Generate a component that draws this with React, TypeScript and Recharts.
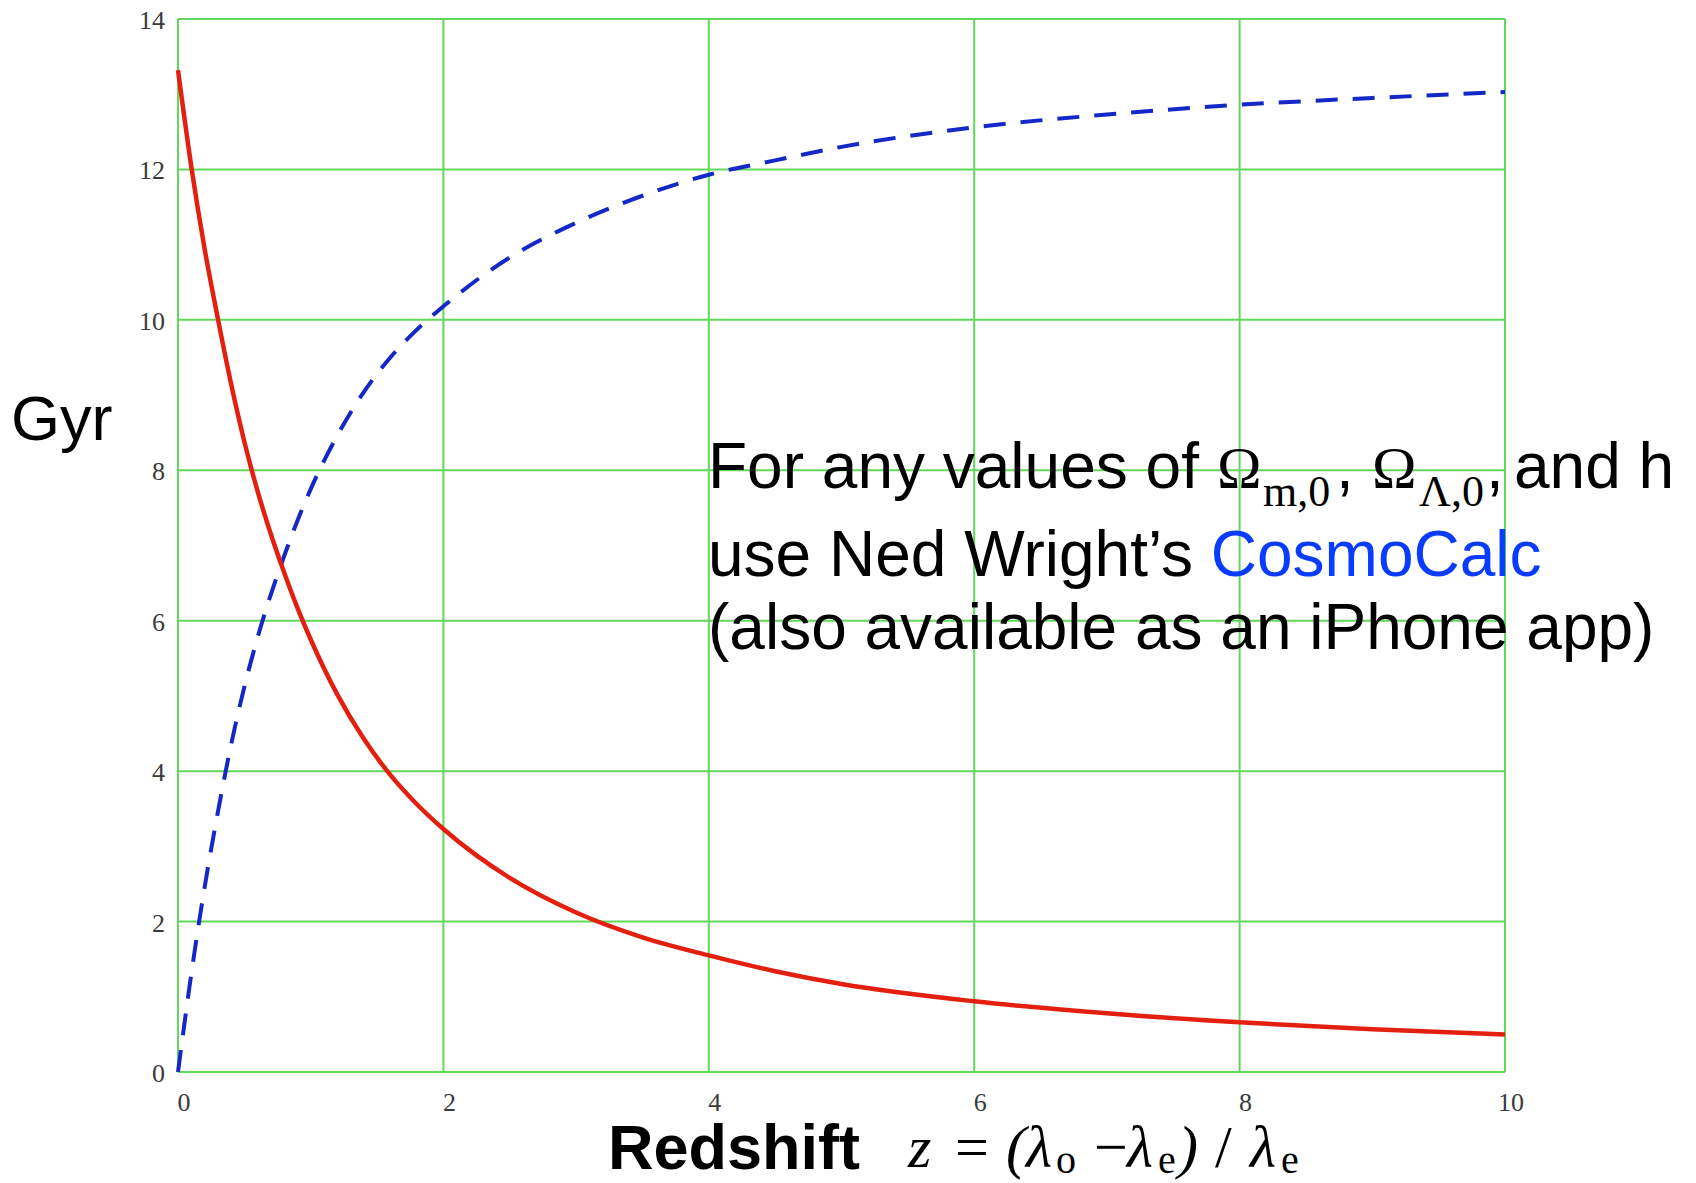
import { CartesianGrid, Line, LineChart, XAxis, YAxis } from "recharts";

// age of the universe at redshift z (red, solid)
const zAge = [0, 0.1, 0.2, 0.3, 0.4, 0.5, 0.6, 0.7, 0.8, 0.9, 1.0, 1.2, 1.4, 1.6, 1.8, 2, 2.5, 3, 3.5, 4, 4.5, 5, 6, 7, 8, 9, 10];
const age = [13.32, 12.04, 10.95, 10.02, 9.15, 8.38, 7.72, 7.15, 6.64, 6.17, 5.75, 5.02, 4.43, 3.95, 3.56, 3.23, 2.58, 2.12, 1.79, 1.55, 1.34, 1.17, 0.94, 0.78, 0.66, 0.57, 0.5];

// lookback time to redshift z (blue, dashed)
const zLook = [0, 0.1, 0.2, 0.3, 0.4, 0.5, 0.6, 0.7, 0.8, 0.9, 1.0, 1.2, 1.4, 1.6, 1.8, 2, 2.5, 3, 3.5, 4, 4.5, 5, 6, 7, 8, 9, 10];
const lookback = [0, 1.3, 2.45, 3.45, 4.35, 5.12, 5.78, 6.35, 6.86, 7.33, 7.75, 8.46, 9.04, 9.5, 9.87, 10.18, 10.83, 11.29, 11.65, 11.93, 12.12, 12.3, 12.56, 12.73, 12.86, 12.95, 13.03];

const xTicks = [0, 2, 4, 6, 8, 10];
const yTicks = [0, 2, 4, 6, 8, 10, 12, 14];

const ageData = zAge.map((z, i) => ({ z, gyr: age[i] }));
const lookData = zLook.map((z, i) => ({ z, gyr: lookback[i] }));

const GRID = "#62d85a";
const SANS = "'Liberation Sans', Arial, sans-serif";
const SERIF = "'Liberation Serif', 'Times New Roman', serif";

const YTick = ({ y, payload }: any) => (
  <text x={165} y={y + 4} textAnchor="end" dominantBaseline="middle" fontFamily={SERIF} fontSize={26} fill="#3a3a3a">
    {payload.value}
  </text>
);

const XTick = ({ x, payload }: any) => (
  <text x={x + 6} y={1105} textAnchor="middle" dominantBaseline="middle" fontFamily={SERIF} fontSize={26} fill="#3a3a3a">
    {payload.value}
  </text>
);

function Notes() {
  return (
    <svg width={1696} height={1183} style={{ position: "absolute", left: 0, top: 0, pointerEvents: "none" }}>
      <text x={11} y={440} fontFamily={SANS} fontSize={63} fill="#000">
        Gyr
      </text>

      <text x={708} y={488} fontFamily={SANS} fontSize={64} fill="#000">
        <tspan>For any values of</tspan>
        <tspan x={1217} fontFamily={SERIF} fontSize={60}>Ω</tspan>
        <tspan x={1263} fontFamily={SERIF} fontSize={44} dy={18}>m,0</tspan>
        <tspan x={1336} dy={-18}>,</tspan>
        <tspan x={1372} fontFamily={SERIF} fontSize={60}>Ω</tspan>
        <tspan x={1419} fontFamily={SERIF} fontSize={44} dy={18}>Λ,0</tspan>
        <tspan x={1486} dy={-18}>,</tspan>
        <tspan x={1514}>and h</tspan>
      </text>
      <text x={708} y={576} fontFamily={SANS} fontSize={64} fill="#000">
        <tspan>use Ned Wright’s </tspan>
        <tspan fill="#0a3cff">CosmoCalc</tspan>
      </text>
      <text x={708} y={649} fontFamily={SANS} fontSize={64} fill="#000">
        (also available as an iPhone app)
      </text>

      <text x={608} y={1169} fontFamily={SANS} fontSize={63} fontWeight="bold" fill="#000">
        Redshift
      </text>
      <text y={1167} fontFamily={SERIF} fontSize={60} fill="#000">
        <tspan x={908} fontStyle="italic">z</tspan>
        <tspan x={955}>=</tspan>
        <tspan x={1006} fontStyle="italic">(</tspan>
        <tspan x={1026} fontStyle="italic">λ</tspan>
        <tspan x={1056} fontSize={40} dy={6}>o</tspan>
        <tspan x={1094} dy={-6}>−</tspan>
        <tspan x={1127} fontStyle="italic">λ</tspan>
        <tspan x={1158} fontSize={40} dy={6}>e</tspan>
        <tspan x={1178} fontStyle="italic" dy={-6}>)</tspan>
        <tspan x={1215}>/</tspan>
        <tspan x={1250} fontStyle="italic">λ</tspan>
        <tspan x={1281} fontSize={40} dy={6}>e</tspan>
      </text>
    </svg>
  );
}

export default function App() {
  return (
    <div style={{ position: "absolute", left: 0, top: 0, width: 1696, height: 1183, background: "#fff" }}>
      <LineChart width={1696} height={1183} margin={{ top: 19, right: 191, bottom: 61, left: 118 }}>
        <CartesianGrid stroke={GRID} strokeWidth={2} fill="none" />
        <XAxis
          type="number"
          dataKey="z"
          domain={[0, 10]}
          ticks={xTicks}
          allowDuplicatedCategory={false}
          axisLine={false}
          tickLine={false}
          height={50}
          tick={<XTick />}
        />
        <YAxis
          type="number"
          domain={[0, 14]}
          ticks={yTicks}
          axisLine={false}
          tickLine={false}
          width={60}
          tick={<YTick />}
        />
        <Line
          data={lookData}
          dataKey="gyr"
          type="monotone"
          stroke="#1428c8"
          strokeWidth={4}
          strokeDasharray="22 15"
          dot={false}
          isAnimationActive={false}
        />
        <Line
          data={ageData}
          dataKey="gyr"
          type="monotone"
          stroke="#e3200f"
          strokeWidth={4.5}
          dot={false}
          isAnimationActive={false}
        />
      </LineChart>
      <Notes />
    </div>
  );
}
